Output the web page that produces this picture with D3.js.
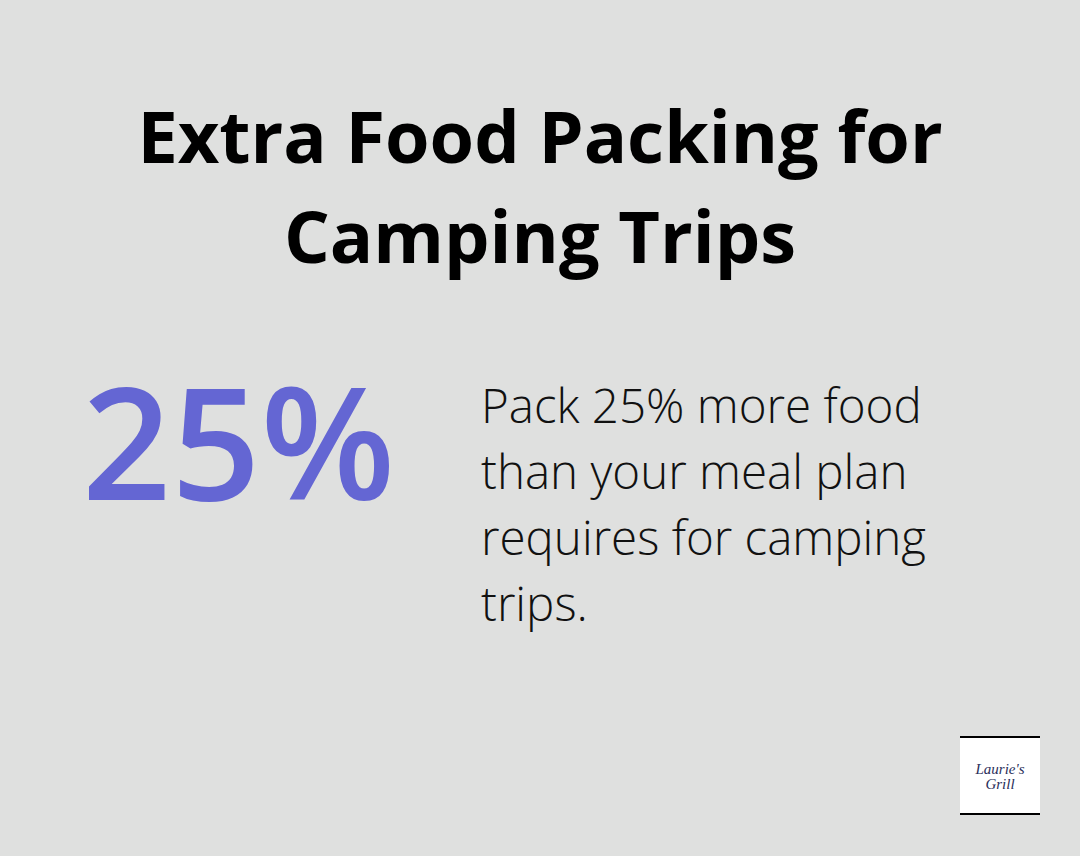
<!DOCTYPE html>
<html><head><meta charset="utf-8">
<script src="https://cdn.jsdelivr.net/npm/d3@7"></script>
<style>body{margin:0;background:#dfe0df}</style></head>
<body><svg id="c" width="1080" height="856"></svg>
<script>
const titleLines = ["Extra Food Packing for", "Camping Trips"];
const statValue = [25];
const statUnit = ["%"];
const descLines = ["Pack 25% more food", "than your meal plan", "requires for camping", "trips."];
const logoLines = ["Laurie's", "Grill"];

const svg = d3.select("#c");
svg.append("rect").attr("width",1080).attr("height",856).attr("fill","#dfe0df");

const ty = d3.scaleLinear().domain([0,1]).range([163,263]);
svg.selectAll(".t").data(titleLines).join("text")
  .attr("x",540).attr("y",(d,i)=>ty(i)).attr("text-anchor","middle")
  .attr("font-family","Open Sans").attr("font-weight",700).attr("font-size",72)
  .attr("fill","#000").text(d=>d);

svg.selectAll(".v").data(statValue).join("text")
  .attr("x",82).attr("y",500)
  .attr("font-family","Open Sans").attr("font-weight",600).attr("font-size",156).attr("fill","#6466d3")
  .text(d=>d+statUnit[0]);

const dy = d3.scaleLinear().domain([0,1]).range([423,489]);
svg.selectAll(".d").data(descLines).join("text")
  .attr("x",481).attr("y",(d,i)=>dy(i))
  .attr("font-family","Open Sans").attr("font-weight",300).attr("font-size",47.5)
  .attr("fill","#111").text(d=>d);

const g = svg.append("g");
g.append("rect").attr("x",960).attr("y",737).attr("width",80).attr("height",78).attr("fill","#fff");
g.append("rect").attr("x",960).attr("y",736).attr("width",80).attr("height",2).attr("fill","#000");
g.append("rect").attr("x",960).attr("y",813).attr("width",80).attr("height",2).attr("fill","#000");
g.selectAll("text").data(logoLines).join("text")
  .attr("x",1000).attr("y",(d,i)=>774+i*15).attr("text-anchor","middle")
  .attr("font-family","Liberation Serif").attr("font-style","italic").attr("font-size",15)
  .attr("fill","#2a2f5a").text(d=>d);
</script></body></html>
